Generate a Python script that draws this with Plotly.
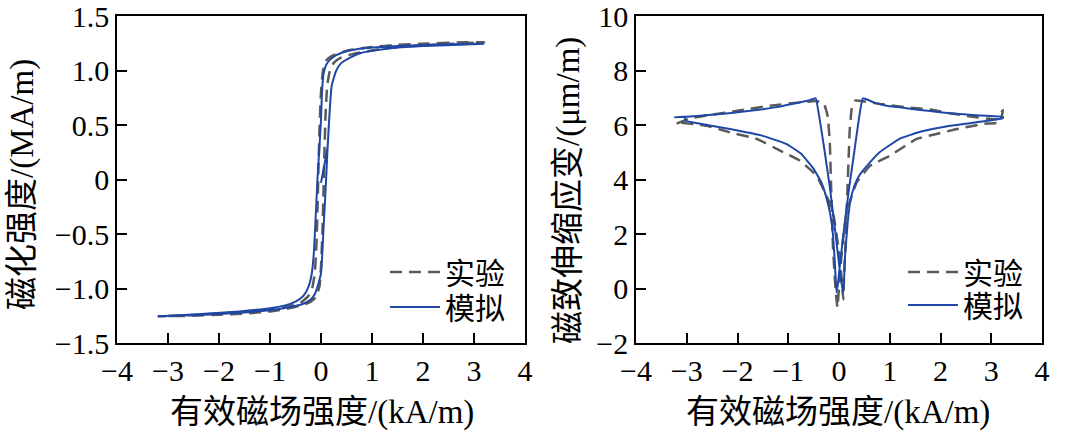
import plotly.graph_objects as go

# ---------------- data ----------------
# Left panel: magnetization M (MA/m) vs effective field H (kA/m)
exp_m_H = [3.2, 2.5, 2.0, 1.5, 1.0, 0.6, 0.35, 0.2, 0.1, 0.04, 0.0, -0.03, -0.05, -0.07, -0.09, -0.12, -0.17, -0.25, -0.4, -0.7, -1.2, -2.0, -2.6, -3.2,
           -3.2, -2.5, -2.0, -1.5, -1.0, -0.6, -0.35, -0.2, -0.1, -0.03, 0.0, 0.03, 0.05, 0.07, 0.09, 0.12, 0.17, 0.25, 0.4, 0.7, 1.2, 2.0, 2.6, 3.2]
exp_m_M = [1.26, 1.255, 1.245, 1.235, 1.215, 1.19, 1.16, 1.13, 1.09, 1.0, 0.8, 0.45, 0.1, -0.3, -0.6, -0.85, -0.99, -1.07, -1.13, -1.17, -1.2, -1.23, -1.245, -1.255,
           -1.255, -1.25, -1.24, -1.23, -1.21, -1.18, -1.15, -1.12, -1.08, -0.98, -0.8, -0.45, -0.1, 0.3, 0.6, 0.85, 0.99, 1.07, 1.12, 1.16, 1.2, 1.23, 1.245, 1.26]

sim_m_H = [0.0, 0.04, 0.08, 0.11, 0.13, 0.16, 0.21, 0.3, 0.4, 0.5, 0.78, 1.0, 1.5, 2.0, 2.6, 3.2,
           3.2, 2.5, 2.0, 1.5, 1.0, 0.7, 0.45, 0.3, 0.18, 0.1, 0.05, 0.02, 0.0, -0.03, -0.07, -0.1, -0.14, -0.18, -0.25, -0.35, -0.5, -0.7, -1.0, -1.6, -2.2, -2.8, -3.2,
           -3.2, -2.6, -2.0, -1.5, -1.0, -0.6, -0.35, -0.2, -0.12, -0.06, 0.0, 0.05, 0.1, 0.13, 0.16, 0.21, 0.3, 0.4, 0.5, 0.78, 1.0, 1.5, 2.0, 2.6, 3.2]
sim_m_M = [-0.03, 0.07, 0.17, 0.25, 0.3, 0.55, 0.86, 1.0, 1.07, 1.1, 1.16, 1.18, 1.21, 1.225, 1.235, 1.245,
           1.245, 1.24, 1.235, 1.225, 1.21, 1.195, 1.17, 1.14, 1.1, 1.05, 0.97, 0.8, 0.55, 0.3, 0.0, -0.3, -0.67, -0.86, -0.99, -1.07, -1.12, -1.155, -1.18, -1.21, -1.23, -1.245, -1.255,
           -1.255, -1.245, -1.235, -1.22, -1.2, -1.17, -1.14, -1.1, -1.05, -0.97, -0.86, -0.45, 0.0, 0.3, 0.55, 0.86, 1.0, 1.07, 1.1, 1.16, 1.18, 1.21, 1.225, 1.235, 1.245]

# Right panel: magnetostrictive strain (um/m) vs effective field H (kA/m)
exp_s_H = [-3.2, -2.94, -2.5, -2.0, -1.36, -0.77, -0.45, -0.3, -0.22, -0.18, -0.16, -0.14, -0.12, -0.09, -0.06, -0.03,
           0.02, 0.08, 0.15, 0.25, 0.35, 0.61, 1.0, 1.53, 1.92, 2.32, 2.84, 3.17, 3.23,
           3.1, 2.64, 2.19, 1.86, 1.34, 0.81, 0.45, 0.32, 0.25, 0.21, 0.19, 0.17, 0.15, 0.13, 0.1, 0.085,
           0.04, -0.02, -0.1, -0.2, -0.31, -0.44, -0.77, -1.16, -1.62, -2.15, -2.6, -3.2]
exp_s_L = [6.05, 6.24, 6.38, 6.52, 6.71, 6.83, 6.88, 6.8, 6.3, 5.3, 4.0, 2.8, 1.6, 0.6, -0.2, -0.7,
           0.6, 1.8, 2.8, 3.4, 3.9, 4.5, 4.87, 5.49, 5.67, 5.85, 6.04, 6.1, 6.55,
           6.22, 6.3, 6.43, 6.55, 6.65, 6.77, 6.88, 6.9, 6.6, 5.8, 4.8, 3.8, 2.8, 1.7, 0.5, -0.4,
           0.6, 1.6, 2.6, 3.2, 3.65, 4.14, 4.69, 5.06, 5.49, 5.73, 5.97, 6.1]

sim_s_H = [-3.23, -2.8, -2.34, -2.0, -1.5, -1.16, -0.8, -0.6, -0.46, -0.38, -0.28, -0.18, -0.08, 0.0, 0.05, 0.085,
           0.12, 0.17, 0.22, 0.3, 0.4, 0.55, 0.8, 1.2, 1.6, 2.19, 2.7, 3.1, 3.23,
           3.23, 2.7, 2.19, 1.99, 1.6, 1.2, 0.94, 0.7, 0.47, 0.39, 0.3, 0.2, 0.1, 0.02, -0.02, -0.05,
           -0.08, -0.12, -0.17, -0.24, -0.35, -0.5, -0.75, -1.03, -1.5, -2.15, -2.6, -3.03, -3.03, -3.23]
sim_s_L = [6.28, 6.33, 6.4, 6.47, 6.58, 6.68, 6.82, 6.9, 6.98, 6.2, 5.0, 3.7, 2.2, 0.9, 0.2, -0.15,
           1.2, 2.4, 3.17, 3.75, 4.15, 4.5, 5.0, 5.5, 5.75, 5.97, 6.1, 6.2, 6.25,
           6.3, 6.36, 6.43, 6.47, 6.55, 6.65, 6.71, 6.82, 6.98, 6.2, 5.0, 3.7, 2.2, 0.9, 0.2, -0.15,
           0.9, 2.0, 2.7, 3.28, 3.9, 4.39, 4.95, 5.3, 5.6, 5.85, 6.0, 6.16, 6.3, 6.28]

x_ticks = [-4, -3, -2, -1, 0, 1, 2, 3, 4]
x_labels = ["−4", "−3", "−2", "−1", "0", "1", "2", "3", "4"]
m_ticks = [-1.5, -1.0, -0.5, 0, 0.5, 1.0, 1.5]
m_labels = ["−1.5", "−1.0", "−0.5", "0", "0.5", "1.0", "1.5"]
s_ticks = [-2, 0, 2, 4, 6, 8, 10]
s_labels = ["−2", "0", "2", "4", "6", "8", "10"]

name_exp = "实验"
name_sim = "模拟"
xtitle = "有效磁场强度/(kA/m)"
ytitle_left = "磁化强度/(MA/m)"
ytitle_right = "磁致伸缩应变/(μm/m)"

# ---------------- styling ----------------
GRAY = "#5a5a5a"
BLUE = "#1f48a6"
SERIF = "Liberation Serif, Times New Roman, serif"
TITLEF = "Liberation Serif, Noto Sans CJK SC, serif"
W, H = 1070, 433

fig = go.Figure()
fig.add_trace(go.Scatter(x=exp_m_H, y=exp_m_M, mode="lines", name=name_exp, showlegend=True,
                         line=dict(color=GRAY, width=2.5, dash="12px,7px", shape="spline", smoothing=0.5),
                         xaxis="x", yaxis="y", legend="legend"))
fig.add_trace(go.Scatter(x=sim_m_H, y=sim_m_M, mode="lines", name=name_sim, showlegend=True,
                         line=dict(color=BLUE, width=2, shape="spline", smoothing=0.5),
                         xaxis="x", yaxis="y", legend="legend2"))
fig.add_trace(go.Scatter(x=exp_s_H, y=exp_s_L, mode="lines", name=name_exp, showlegend=True,
                         line=dict(color=GRAY, width=2.5, dash="12px,7px", shape="spline", smoothing=0.3),
                         xaxis="x2", yaxis="y2", legend="legend3"))
fig.add_trace(go.Scatter(x=sim_s_H, y=sim_s_L, mode="lines", name=name_sim, showlegend=True,
                         line=dict(color=BLUE, width=2, shape="spline", smoothing=0.3),
                         xaxis="x2", yaxis="y2", legend="legend4"))

ax_common = dict(showline=True, linecolor="black", linewidth=1.5, mirror=True,
                 ticks="inside", ticklen=10, tickwidth=1.5, tickcolor="black",
                 showgrid=False, zeroline=False, ticklabeloverflow="allow",
                 tickfont=dict(family=SERIF, size=30, color="black"))


def leg(px, py):
    return dict(x=px / W, y=1 - py / H, xanchor="left", yanchor="middle",
                bgcolor="rgba(0,0,0,0)", borderwidth=0, itemwidth=50,
                font=dict(family=TITLEF, size=30, color="black"))


ydom = [1 - 343 / H, 1 - 16 / H]
fig.update_layout(
    width=W, height=H,
    showlegend=True,
    margin=dict(l=0, r=0, t=0, b=0, autoexpand=False),
    paper_bgcolor="white", plot_bgcolor="white",
    xaxis=dict(domain=[117 / W, 525 / W], range=[-4, 4], tickvals=x_ticks, ticktext=x_labels,
               anchor="y", **ax_common),
    yaxis=dict(domain=ydom, range=[-1.5, 1.5], tickvals=m_ticks, ticktext=m_labels,
               anchor="x", **ax_common),
    xaxis2=dict(domain=[636 / W, 1042 / W], range=[-4, 4], tickvals=x_ticks, ticktext=x_labels,
                anchor="y2", **ax_common),
    yaxis2=dict(domain=ydom, range=[-2, 10], tickvals=s_ticks, ticktext=s_labels,
                anchor="x2", **ax_common),
    legend=leg(385, 272),
    legend2=leg(385, 307),
    legend3=leg(903, 272),
    legend4=leg(903, 305),
    annotations=[
        dict(text=xtitle, x=322 / W, y=1 - 412 / H, xref="paper", yref="paper",
             xanchor="center", yanchor="middle",
             showarrow=False, font=dict(family=TITLEF, size=33, color="black")),
        dict(text=xtitle, x=838 / W, y=1 - 412 / H, xref="paper", yref="paper",
             xanchor="center", yanchor="middle",
             showarrow=False, font=dict(family=TITLEF, size=33, color="black")),
        dict(text=ytitle_left, x=22 / W, y=1 - 185 / H, xref="paper", yref="paper",
             xanchor="center", yanchor="middle",
             textangle=-90, showarrow=False, font=dict(family=TITLEF, size=33, color="black")),
        dict(text=ytitle_right, x=568 / W, y=1 - 191 / H, xref="paper", yref="paper",
             xanchor="center", yanchor="middle",
             textangle=-90, showarrow=False, font=dict(family=TITLEF, size=33, color="black")),
    ],
)

fig.write_html("out.html", config={"displayModeBar": False},
               post_script="document.body.style.margin='0px';")
